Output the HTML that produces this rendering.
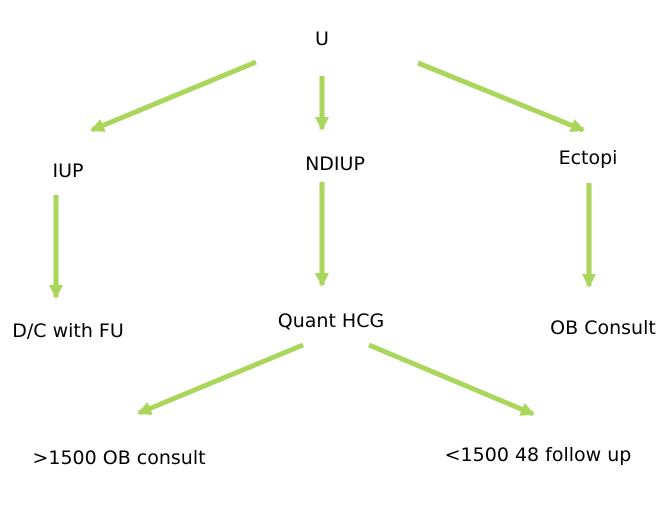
<!DOCTYPE html>
<html><head><style>
html,body{margin:0;padding:0;background:#fff;width:672px;height:522px;overflow:hidden}
svg text{font-family:"DejaVu Sans",sans-serif;font-size:19px;fill:#000}
</style></head><body>
<svg width="672" height="522" viewBox="0 0 672 522">
<defs>
<marker id="a" markerUnits="userSpaceOnUse" markerWidth="16" markerHeight="16" refX="12" refY="7" orient="auto">
<path d="M0,0 L14,7 L0,14 Z" fill="#a9d65b"/>
</marker>
</defs>
<g stroke="#a9d65b" stroke-width="5" fill="none" marker-end="url(#a)">
<line x1="256" y1="62" x2="92" y2="130"/>
<line x1="322" y1="76" x2="322" y2="129"/>
<line x1="418" y1="63" x2="583" y2="130"/>
<line x1="56" y1="195" x2="56" y2="297"/>
<line x1="322" y1="182" x2="322" y2="285"/>
<line x1="589" y1="183" x2="589" y2="286"/>
<line x1="303" y1="345" x2="139" y2="413"/>
<line x1="369" y1="345" x2="533" y2="414"/>
</g>
<g text-anchor="middle">
<text x="322" y="45">U</text>
<text x="68" y="177">IUP</text>
<text x="335" y="170">NDIUP</text>
<text x="588" y="164">Ectopi</text>
<text x="68" y="337">D/C with FU</text>
<text x="331" y="327">Quant HCG</text>
<text x="603" y="334">OB Consult</text>
<text x="119" y="464">&gt;1500 OB consult</text>
<text x="538" y="461">&lt;1500 48 follow up</text>
</g>
</svg>
</body></html>
